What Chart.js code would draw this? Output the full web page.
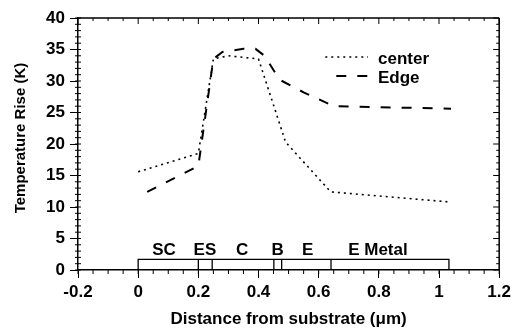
<!DOCTYPE html>
<html>
<head>
<meta charset="utf-8">
<script src="https://cdn.jsdelivr.net/npm/chart.js@4/dist/chart.umd.min.js"></script>
<style>
  html, body { margin: 0; padding: 0; background: #fff; }
  #wrap { width: 515px; height: 331px; }
</style>
</head>
<body>
<div id="wrap"><canvas id="chart" width="515" height="331"></canvas></div>
<script>
// values
var centerX = [0, 0.2, 0.25, 0.3, 0.4, 0.49, 0.64, 1.035];
var centerY = [15.6, 18.5, 33.5, 34.0, 33.5, 20.3, 12.4, 10.8];

var edgeX = [0.03, 0.2, 0.25, 0.28, 0.35, 0.39, 0.42, 0.47, 0.55, 0.65, 1.04];
var edgeY = [12.4, 16.5, 33.5, 34.6, 35.1, 35.1, 34.0, 30.2, 28.2, 26.0, 25.6];

// layer stack drawn along the bottom
var layerEdges = [0, 0.2, 0.246, 0.451, 0.477, 0.641, 1.033];
var layerTop = 1.7;
var layerNames = ['SC', 'ES', 'C', 'B', 'E', 'E Metal'];
var layerLabelX = [0.086, 0.222, 0.346, 0.464, 0.563, 0.797];
var layerLabelY = 3.3;

var xTicks = [-0.2, 0, 0.2, 0.4, 0.6, 0.8, 1, 1.2];
var yTicks = [0, 5, 10, 15, 20, 25, 30, 35, 40];

var FONT = "'Liberation Sans', Arial, sans-serif";

function pts(xs, ys) {
	var out = [];
	for (var i = 0; i < xs.length; i++) out.push({x: xs[i], y: ys[i]});
	return out;
}

// outline of the layer boxes, broken with null points
var layerPts = [
	{x: layerEdges[0], y: 0},
	{x: layerEdges[0], y: layerTop},
	{x: layerEdges[layerEdges.length - 1], y: layerTop},
	{x: layerEdges[layerEdges.length - 1], y: 0}
];
for (var k = 1; k < layerEdges.length - 1; k++) {
	layerPts.push({x: layerEdges[k], y: null});
	layerPts.push({x: layerEdges[k], y: 0});
	layerPts.push({x: layerEdges[k], y: layerTop});
}

// frame, minor ticks, legend, layer names and the y title
var decor = {
	id: 'decor',
	afterDraw: function(chart) {
		var ctx = chart.ctx;
		var xs = chart.scales.x, ys = chart.scales.y;
		var a = chart.chartArea;
		ctx.save();
		ctx.strokeStyle = '#000';
		ctx.lineWidth = 1.5;
		ctx.beginPath();
		ctx.moveTo(a.left, a.top); ctx.lineTo(a.right, a.top);
		ctx.moveTo(a.right, a.top); ctx.lineTo(a.right, a.bottom);
		ctx.stroke();

		ctx.lineWidth = 1;
		ctx.beginPath();
		for (var i = -4; i <= 24; i++) {
			var px = xs.getPixelForValue(i * 0.05);
			var len = (i % 4 === 0) ? 6 : 3;
			ctx.moveTo(px, a.bottom); ctx.lineTo(px, a.bottom + 4);
			ctx.moveTo(px, a.top); ctx.lineTo(px, a.top + len);
		}
		for (var j = 0; j <= 40; j++) {
			var py = ys.getPixelForValue(j);
			var l2 = (j % 5 === 0) ? 6 : 3;
			ctx.moveTo(a.left - 3, py); ctx.lineTo(a.left + 3, py);
			ctx.moveTo(a.right, py); ctx.lineTo(a.right - l2, py);
		}
		ctx.stroke();

		// legend
		var lx0 = xs.getPixelForValue(0.622), lx1 = xs.getPixelForValue(0.764);
		ctx.font = 'bold 17px ' + FONT;
		ctx.fillStyle = '#000';
		ctx.textBaseline = 'middle';
		ctx.lineWidth = 1.5;
		ctx.setLineDash([2, 4]);
		ctx.beginPath(); ctx.moveTo(lx0, 57); ctx.lineTo(lx1, 57); ctx.stroke();
		ctx.setLineDash([10, 11]);
		ctx.lineWidth = 2;
		ctx.beginPath(); ctx.moveTo(lx0 + 11, 76); ctx.lineTo(lx1 + 2, 76); ctx.stroke();
		ctx.setLineDash([]);
		ctx.fillText('center', lx1 + 10, 59);
		ctx.fillText('Edge', lx1 + 10, 78);

		// layer names
		ctx.textAlign = 'center';
		ctx.textBaseline = 'alphabetic';
		for (var n = 0; n < layerNames.length; n++) {
			ctx.fillText(layerNames[n], xs.getPixelForValue(layerLabelX[n]), ys.getPixelForValue(layerLabelY) + 6);
		}

		// y title, a little condensed like the scan
		ctx.font = 'bold 15px ' + FONT;
		ctx.textBaseline = 'middle';
		ctx.translate(21, (a.top + a.bottom) / 2 - 6);
		ctx.rotate(-Math.PI / 2);
		var title = 'Temperature Rise (K)';
		var w = ctx.measureText(title).width;
		ctx.scale(Math.min(1, 167 / w), 1);
		ctx.fillText(title, 0, 0);
		ctx.restore();
	}
};

var ctx = document.getElementById('chart').getContext('2d');
var chart = new Chart(ctx, {
	type: 'line',
	data: {
		datasets: [
			{
				label: 'center',
				data: pts(centerX, centerY),
				borderColor: '#000',
				borderWidth: 1.6,
				borderDash: [2, 4],
				pointRadius: 0,
				fill: false,
				tension: 0
			},
			{
				label: 'Edge',
				data: pts(edgeX, edgeY),
				borderColor: '#000',
				borderWidth: 2,
				borderDash: [10, 11],
				pointRadius: 0,
				fill: false,
				tension: 0
			},
			{
				label: 'layers',
				data: layerPts,
				borderColor: '#000',
				borderWidth: 1.3,
				pointRadius: 0,
				fill: false,
				spanGaps: false,
				tension: 0
			}
		]
	},
	options: {
		responsive: false,
		animation: false,
		layout: { padding: { left: 0, right: 13, top: 18, bottom: 0 } },
		plugins: {
			legend: { display: false },
			tooltip: { enabled: false }
		},
		scales: {
			x: {
				type: 'linear',
				min: -0.2,
				max: 1.2,
				afterFit: function(s) { s.height = 61; },
				afterBuildTicks: function(s) { s.ticks = xTicks.map(function(v) { return {value: v}; }); },
				ticks: {
					color: '#000',
					font: { family: FONT, size: 17, weight: 'bold' },
					padding: 4,
					maxRotation: 0,
					callback: function(v) { return String(Math.round(v * 10) / 10); }
				},
				grid: { drawOnChartArea: false, color: '#000', tickLength: 8 },
				border: { color: '#000', width: 1.5 },
				title: {
					display: true,
					text: 'Distance from substrate (\u03bcm)',
					color: '#000',
					font: { family: FONT, size: 17, weight: 'bold' },
					padding: { top: 0, bottom: 1 }
				}
			},
			y: {
				min: 0,
				max: 40,
				afterFit: function(s) { s.width = 78; },
				afterBuildTicks: function(s) { s.ticks = yTicks.map(function(v) { return {value: v}; }); },
				ticks: {
					color: '#000',
					font: { family: FONT, size: 17, weight: 'bold' },
					padding: 5
				},
				grid: { drawOnChartArea: false, color: '#000', tickLength: 8 },
				border: { color: '#000', width: 1.5 }
			}
		}
	},
	plugins: [decor]
});
</script>
</body>
</html>
